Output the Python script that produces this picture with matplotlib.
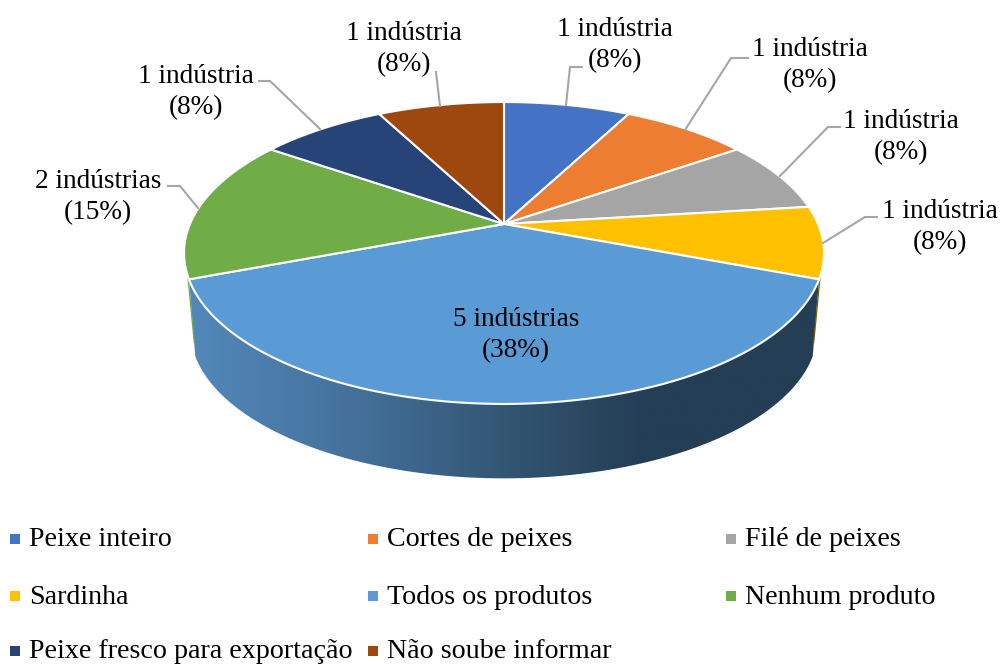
import numpy as np
import matplotlib
matplotlib.use("Agg")
import matplotlib.pyplot as plt
from matplotlib.patches import Polygon
from matplotlib.colors import LinearSegmentedColormap

categories = ["Peixe inteiro", "Cortes de peixes", "Filé de peixes", "Sardinha",
              "Todos os produtos", "Nenhum produto",
              "Peixe fresco para exportação", "Não soube informar"]
counts = [1, 1, 1, 1, 5, 2, 1, 1]
labels = ["1 indústria\n(8%)", "1 indústria\n(8%)", "1 indústria\n(8%)", "1 indústria\n(8%)",
          "5 indústrias\n(38%)", "2 indústrias\n(15%)", "1 indústria\n(8%)", "1 indústria\n(8%)"]
colors = ["#4472C4", "#ED7D31", "#A5A5A5", "#FFC000", "#5B9BD5", "#70AD47", "#264478", "#9E480E"]

label_pos = [(615, 44), (810, 64), (901, 136), (940, 226),
             (516, 334), (98, 196), (196, 91), (404, 48)]
leaders = [[(566, 105), (570, 67), (582, 67)],
           [(685, 130), (731, 58), (748, 58)],
           [(780, 176), (828, 127), (840, 127)],
           [(823, 243), (865, 217), (877, 217)],
           None,
           [(198, 208), (180, 186), (168, 186)],
           [(320, 129), (270, 81), (259, 81)],
           [(440, 106), (436, 72)]]
legend_x = [10, 368, 726]
legend_y = [539, 596, 651]

CX, CY = 504, 224
K, B, A = 0.192, 145.4, 314.0
SHRINK, DEPTH = 0.98, 78


def project(theta, radius=1.0):
    """Clockwise angle from the top of a tilted disc to pixel offsets from its centre."""
    x = radius * np.sin(theta)
    y = radius * np.cos(theta)
    d = 1 + K * y
    return A * x / d, -B * y / d


plt.rcParams["font.family"] = ["Liberation Serif", "DejaVu Serif"]
fig = plt.figure(figsize=(10.03, 6.65), dpi=100)
ax = fig.add_axes([0, 0, 1, 1])
ax.set_xlim(0, 1003)
ax.set_ylim(665, 0)
ax.axis("off")

fractions = np.array(counts) / sum(counts)
edges = np.concatenate([[0], np.cumsum(fractions)]) * 2 * np.pi

# side wall of the large front slice, with a horizontal shading
t = np.linspace(edges[4], edges[5], 200)
xs, ys = project(t)
top = np.column_stack([CX + xs, CY + ys])
bot = np.column_stack([CX + SHRINK * xs, CY + DEPTH + SHRINK * ys])[::-1]
wall = Polygon(np.vstack([top, bot]), closed=True, transform=ax.transData,
               facecolor="none", edgecolor="none")
ax.add_patch(wall)
cmap = LinearSegmentedColormap.from_list(
    "wall", [(0, "#5288BB"), (0.26, "#44719B"), (0.5, "#335673"), (0.72, "#243E55"), (1, "#243E55")])
im = ax.imshow(np.linspace(0, 1, 256)[None, :], cmap=cmap, aspect="auto",
               extent=(188, 820, 480, 270), zorder=1)
im.set_clip_path(wall)
ax.set_xlim(0, 1003)
ax.set_ylim(665, 0)

# thin slivers of the neighbouring slices at the wall ends
for idx, sign in ((3, 1), (5, -1)):
    e = edges[4] if idx == 3 else edges[5]
    x0, y0 = project(e)
    ax.plot([CX + x0 + sign, CX + SHRINK * x0 + sign],
            [CY + y0 - 2, CY + SHRINK * y0 + DEPTH - 14],
            color=colors[idx] if idx == 5 else "#7F6000", lw=0.9, zorder=1.5)

# top face
for i, c in enumerate(colors):
    t = np.linspace(edges[i], edges[i + 1], 120)
    xs, ys = project(t)
    pts = np.vstack([[CX, CY], np.column_stack([CX + xs, CY + ys])])
    ax.add_patch(Polygon(pts, closed=True, facecolor=c, edgecolor="white", lw=1.5,
                         joinstyle="round", zorder=2))

# labels and leader lines
for lab, (lx, ly), path in zip(labels, label_pos, leaders):
    ax.text(lx, ly + 1, lab, ha="center", va="center", fontsize=19.6, color="black",
            linespacing=1.32, zorder=4)
    if path:
        px, py = zip(*path)
        ax.plot(px, py, color="#A6A6A6", lw=1.5, zorder=3, solid_joinstyle="miter")

# legend
for i, (name, c) in enumerate(zip(categories, colors)):
    lx = legend_x[i % 3]
    ly = legend_y[i // 3]
    ax.scatter([lx + 5], [ly], marker="s", s=50, color=c, linewidths=0, zorder=4)
    ax.text(lx + 19, ly + 1, name, ha="left", va="center", fontsize=20.2, color="black", zorder=4)

fig.savefig("out.png", dpi=100, facecolor="white")
